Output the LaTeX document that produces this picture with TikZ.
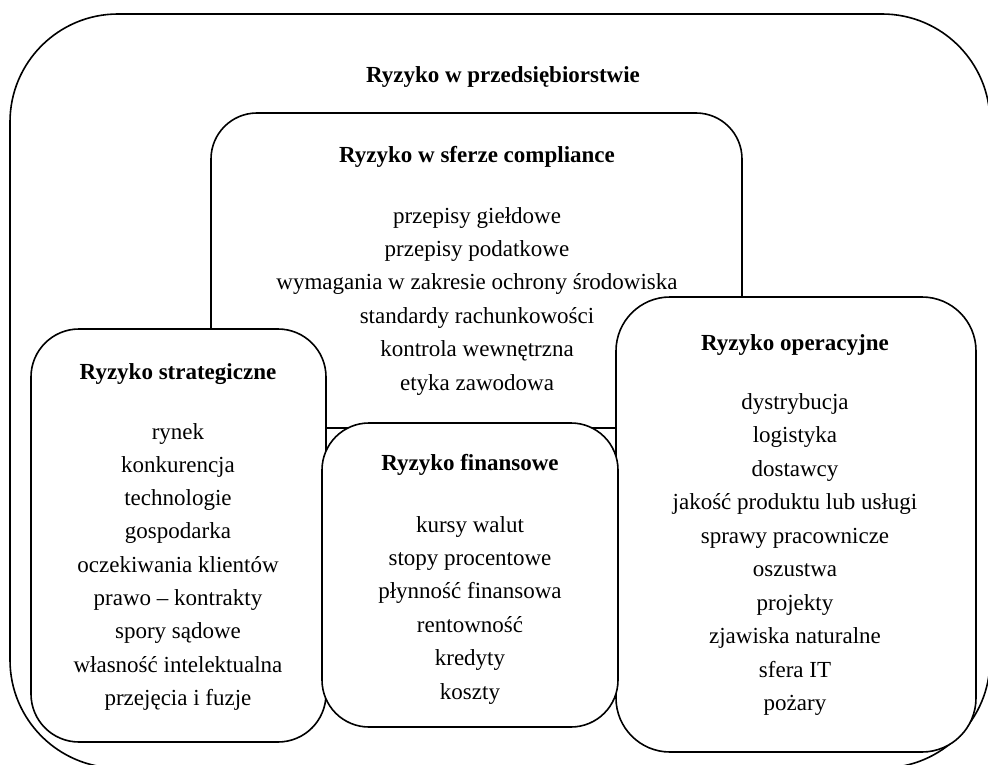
\documentclass[tikz,border=0pt]{standalone}
\usepackage{fontspec}
\setmainfont{Liberation Serif}
\begin{document}
\begin{tikzpicture}[x=1pt,y=-1pt,
  box/.style={draw=black, line width=1.6pt, fill=white},
  ttl/.style={anchor=base, inner sep=0pt, font=\fontsize{23}{33.4}\selectfont\bfseries},
  itm/.style={anchor=base, inner sep=0pt, font=\fontsize{23}{33.4}\selectfont}]
\useasboundingbox (0,0) rectangle (988,765);
\clip (0,0) rectangle (988,765);
% outer box
\draw[box, rounded corners=108pt] (10,14) rectangle (990,768);
\node[ttl] (outert) at (503,83) {Ryzyko w przedsiębiorstwie};
% compliance
\draw[box, rounded corners=46pt] (211,113) rectangle (742,428);
\node[ttl] (compt) at (477,162) {Ryzyko w sferze compliance};
\foreach \t [count=\i] in {przepisy giełdowe, przepisy podatkowe, wymagania w zakresie ochrony środowiska, standardy rachunkowości, kontrola wewnętrzna, etyka zawodowa}
  \node[itm] (c\i) at (477,{223+(\i-1)*33.4}) {\t};
% strategic
\draw[box, rounded corners=48pt] (31,329) rectangle (326,742);
\node[ttl] (strt) at (178,379) {Ryzyko strategiczne};
\foreach \t [count=\i] in {rynek, konkurencja, technologie, gospodarka, oczekiwania klientów, prawo – kontrakty, spory sądowe, własność intelektualna, przejęcia i fuzje}
  \node[itm] (s\i) at (178,{439+(\i-1)*33.3}) {\t};
% operational
\draw[box, rounded corners=54pt] (616,297) rectangle (976,752);
\node[ttl] (opt) at (795,350) {Ryzyko operacyjne};
\foreach \t [count=\i] in {dystrybucja, logistyka, dostawcy, jakość produktu lub usługi, sprawy pracownicze, oszustwa, projekty, zjawiska naturalne, sfera IT, pożary}
  \node[itm] (o\i) at (795,{409+(\i-1)*33.5}) {\t};
% financial
\draw[box, rounded corners=47pt] (322,423) rectangle (618,727);
\node[ttl] (fint) at (470,470) {Ryzyko finansowe};
\foreach \t [count=\i] in {kursy walut, stopy procentowe, płynność finansowa, rentowność, kredyty, koszty}
  \node[itm] (f\i) at (470,{532+(\i-1)*33.4}) {\t};
\end{tikzpicture}
\end{document}
